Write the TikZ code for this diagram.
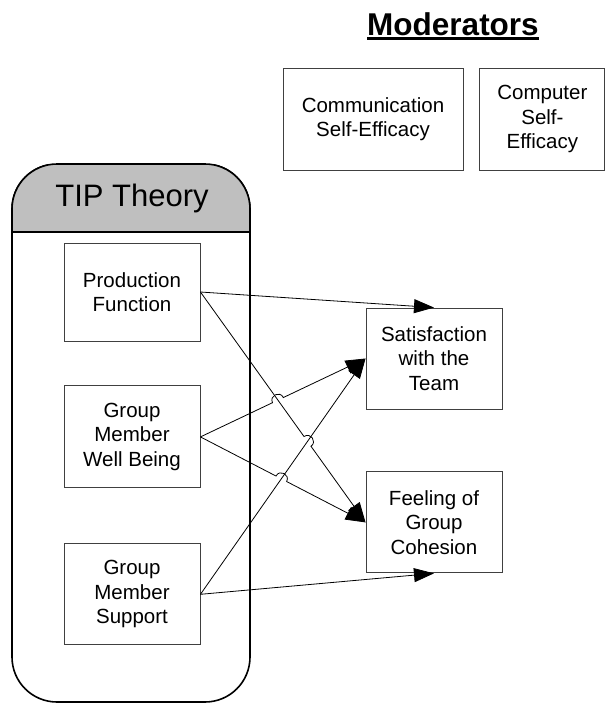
\documentclass[tikz,border=0pt]{standalone}
\usepackage{fontspec}
\setmainfont{Liberation Sans}
\usetikzlibrary{positioning,arrows.meta,calc,intersections}

\begin{document}
\begin{tikzpicture}[x=1pt,y=-1pt,>={Triangle[length=20pt,width=14pt]},
    main node/.style={draw=black!75,line width=0.9pt,fill=white,inner sep=1pt,align=center,minimum width=136pt,minimum height=100pt,font=\fontsize{20.5}{24.5}\selectfont},
    tip box/.style={draw,line width=1.6pt,rounded corners=45pt,minimum width=238pt,minimum height=538pt,inner sep=0pt},
    hop/.style={bend left=90,looseness=1.7}]
    \useasboundingbox (0,0) rectangle (605,704);

    % TIP theory container
    \node[tip box] (tip) at (131,433) {};
    \begin{scope}
        \clip (0,164) rectangle (605,232);
        \node[tip box,fill=black!25] at (131,433) {};
    \end{scope}
    \draw[line width=1.6pt] (tip.west |- 0,232) -- (tip.east |- 0,232);
    \node[font=\fontsize{31}{34}\selectfont] (title) at (132,198) {TIP Theory};

    \node[main node,minimum height=98pt] (1) at (132,292) {Production\\Function};
    \node[main node,minimum height=102pt] (2) [below=44pt of 1] {Group\\Member\\Well Being};
    \node[main node,minimum height=101pt] (3) [below=55pt of 2] {Group\\Member\\Support};

    \node[main node,minimum height=101pt] (4) at (434,358.5) {Satisfaction\\with the\\Team};
    \node[main node,minimum height=101pt] (5) [below=62pt of 4] {Feeling of\\Group\\Cohesion};

    \node[main node,minimum width=180pt,minimum height=102pt] (6) at (373,119) {Communication\\Self-Efficacy};
    \node[main node,minimum width=125pt,minimum height=102pt] (7) [right=16pt of 6] {Computer\\Self-\\Efficacy};
    \node[font=\fontsize{31.5}{34}\bfseries\selectfont,inner sep=0pt,anchor=base] (mod) at (453,35) {Moderators};
    \draw[line width=3pt] ([yshift=-3.5pt]mod.base west) -- ([yshift=-3.5pt]mod.base east);

    % crossings of the links
    \path[name path=a] (1.east) -- (5.west);
    \path[name path=b] (2.east) -- (4.west);
    \path[name path=c] (3.east) -- (4.west);
    \path[name path=d] (2.east) -- (5.west);
    \path[name intersections={of=a and b,by=ab}];
    \path[name intersections={of=a and c,by=ac}];
    \path[name intersections={of=d and c,by=dc}];

    \path[->,line width=0.8pt]
        (1.east) edge (4.north)
        (3.east) edge (4.west)
        (3.east) edge (5.south)
        ;
    \draw[->,line width=0.8pt] (1.east) -- ($(ac)!6pt!(1.east)$) to[hop] ($(ac)!6pt!(5.west)$) -- (5.west);
    \draw[->,line width=0.8pt] (2.east) -- ($(ab)!6pt!(2.east)$) to[hop] ($(ab)!6pt!(4.west)$) -- (4.west);
    \draw[->,line width=0.8pt] (2.east) -- ($(dc)!6pt!(2.east)$) to[hop] ($(dc)!6pt!(5.west)$) -- (5.west);
\end{tikzpicture}
\end{document}
